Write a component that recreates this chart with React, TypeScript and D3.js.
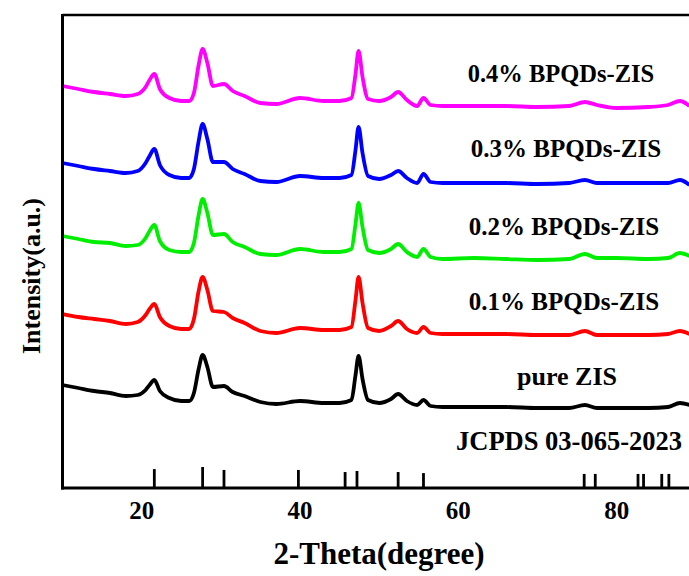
import React from 'react';
import * as d3 from 'd3';

// 2-theta grid (degrees) shared by all patterns
const twoTheta = [10, 12, 14, 16, 18, 19.5, 20.5, 21.0, 21.6, 22.3, 23.5, 25, 26, 26.6, 27.2, 27.7, 28.3, 29, 30.4, 31.5, 33, 35, 37, 40, 43, 45, 46.5, 47.0, 47.4, 47.9, 48.6, 50, 51.5, 52.4, 53.5, 54.8, 55.6, 56.5, 58, 62, 66, 70, 74, 76, 77.5, 80, 84, 86.5, 88, 89.2];

// intensities (a.u., already stacked)
const pureZIS = [103, 100, 97, 95, 92, 93, 98, 103, 108, 97, 90, 87, 87, 95, 119, 133, 121, 101, 102, 96, 92, 86, 84, 87, 85, 85, 88, 112, 132, 109, 88, 85, 89, 94, 87, 83, 88, 82, 81, 81, 81, 80, 80, 83, 80, 80, 80, 81, 85, 83];
const bp01 = [174, 171, 169, 167, 164, 166, 173, 179, 184, 171, 162, 159, 159, 169, 197, 211, 198, 177, 176, 170, 165, 157, 155, 160, 158, 158, 161, 187, 211, 185, 160, 157, 162, 167, 159, 155, 161, 155, 154, 154, 154, 153, 153, 157, 153, 153, 153, 154, 157, 154];
const bp02 = [252, 249, 246, 245, 242, 243, 250, 257, 263, 247, 238, 236, 236, 245, 273, 289, 275, 253, 254, 246, 241, 234, 233, 239, 236, 236, 239, 263, 285, 261, 238, 235, 239, 244, 236, 231, 239, 231, 229, 230, 229, 228, 229, 234, 230, 230, 229, 230, 235, 232];
const bp03 = [325, 322, 319, 317, 315, 317, 325, 332, 339, 323, 313, 310, 310, 319, 347, 364, 349, 326, 326, 319, 314, 307, 306, 312, 310, 310, 313, 337, 361, 335, 312, 309, 313, 317, 310, 305, 314, 306, 305, 305, 305, 304, 305, 308, 305, 305, 305, 305, 308, 303];
const bp04 = [402, 399, 396, 394, 392, 394, 401, 408, 414, 399, 390, 387, 387, 395, 423, 439, 425, 402, 404, 397, 392, 385, 384, 390, 387, 387, 390, 413, 437, 411, 389, 387, 391, 396, 388, 382, 390, 383, 382, 382, 382, 381, 382, 386, 383, 380, 381, 383, 387, 382];

const seriesNames = ['pure ZIS', '0.1% BPQDs-ZIS', '0.2% BPQDs-ZIS', '0.3% BPQDs-ZIS', '0.4% BPQDs-ZIS'];
const seriesColors = ['#000000', '#ff0000', '#00ee00', '#0000ff', '#ff00ff'];

// JCPDS 03-065-2023 reference lines
const jcpdsPos = [21.6, 27.7, 30.4, 39.8, 45.7, 47.2, 52.4, 55.6, 75.9, 77.3, 82.7, 83.4, 85.7, 86.6];
const jcpdsInt = [90, 100, 86, 86, 76, 81, 76, 71, 67, 67, 67, 67, 67, 67];

const xTicks = [20, 40, 60, 80];

const W = 689, H = 576;
const font = '"Times New Roman", "Liberation Serif", serif';

export default function App() {
	const x = d3.scaleLinear().domain([10, 90]).range([62.5, 695.8]);
	const y = d3.scaleLinear().domain([0, 473]).range([488, 15]);
	const stick = d3.scaleLinear().domain([0, 100]).range([0, 21]);

	const allSeries = [pureZIS, bp01, bp02, bp03, bp04];
	const line = d3.line<number>()
		.x((d, i) => x(twoTheta[i]))
		.y(d => y(d))
		.curve(d3.curveMonotoneX);

	// label layout: [center x, baseline y, font size]
	const labelPos = [
		[567, 385, 26],
		[564, 310, 25],
		[564, 235, 25],
		[566, 157, 25],
		[561, 82, 24.5]
	];

	return (
		<svg width={W} height={H} style={{ position: 'absolute', left: 0, top: 0, background: '#fff' }}>
			{allSeries.map((s, i) => (
				<path key={i} d={line(s) || ''} fill='none' stroke={seriesColors[i]} strokeWidth={3.8} strokeLinejoin='round' />
			))}
			{jcpdsPos.map((p, i) => (
				<line key={i} x1={x(p)} x2={x(p)} y1={y(0)} y2={y(0) - stick(jcpdsInt[i])} stroke='#000' strokeWidth={2.8} />
			))}
			{/* frame */}
			<line x1={x(10)} x2={W} y1={15} y2={15} stroke='#000' strokeWidth={2.5} />
			<line x1={x(10)} x2={x(10)} y1={14} y2={489.5} stroke='#000' strokeWidth={3} />
			<line x1={x(10) - 1.5} x2={W} y1={y(0)} y2={y(0)} stroke='#000' strokeWidth={3} />
			{xTicks.map(t => (
				<text key={t} x={x(t)} y={519} textAnchor='middle' fontFamily={font} fontWeight='bold' fontSize={25}>{t}</text>
			))}
			{seriesNames.map((n, i) => (
				<text key={n} x={labelPos[i][0]} y={labelPos[i][1]} textAnchor='middle' fontFamily={font} fontWeight='bold' fontSize={labelPos[i][2]}>{n}</text>
			))}
			<text x={569} y={450} textAnchor='middle' fontFamily={font} fontWeight='bold' fontSize={26.5}>JCPDS 03-065-2023</text>
			<text x={379} y={564} textAnchor='middle' fontFamily={font} fontWeight='bold' fontSize={31}>2-Theta(degree)</text>
			<text transform='translate(40,276) rotate(-90)' textAnchor='middle' fontFamily={font} fontWeight='bold' fontSize={26}>Intensity(a.u.)</text>
		</svg>
	);
}
